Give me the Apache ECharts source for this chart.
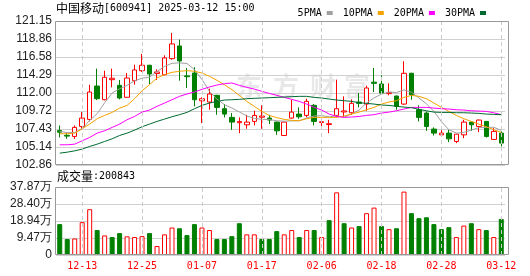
<!DOCTYPE html>
<html><head><meta charset="utf-8">
<script src="https://cdn.jsdelivr.net/npm/echarts@6/dist/echarts.min.js"></script>
<style>html,body{margin:0;padding:0;background:#fff}#c{width:530px;height:276px}</style>
</head><body><div id="c"></div><script>
const dates = ['12-10','12-11','12-12','12-13','12-16','12-17','12-18','12-19','12-20','12-23','12-24','12-25','12-26','12-27','12-30','12-31','01-02','01-03','01-06','01-07','01-08','01-09','01-10','01-13','01-14','01-15','01-16','01-17','01-20','01-21','01-22','01-23','01-24','01-27','02-05','02-06','02-07','02-10','02-11','02-12','02-13','02-14','02-17','02-18','02-19','02-20','02-21','02-24','02-25','02-26','02-27','02-28','03-03','03-04','03-05','03-06','03-07','03-10','03-11','03-12'];
const opens  = [107.25,106.65,106.51,107.78,108.67,112.91,111.17,113.72,113.00,111.48,113.59,114.86,115.55,114.50,114.35,116.39,118.00,114.20,114.57,111.04,110.88,111.73,110.03,108.93,108.25,107.99,108.42,108.95,108.84,108.33,106.63,108.84,109.35,109.18,110.46,108.28,108.02,109.18,109.62,109.52,110.88,110.62,113.40,113.17,111.95,111.64,110.62,114.53,109.90,109.48,107.44,106.71,106.93,105.87,106.71,108.33,107.78,108.42,106.13,106.93];
const closes = [107.05,106.55,107.66,108.84,112.15,111.30,114.02,113.90,111.39,113.93,114.95,115.55,114.44,114.70,116.48,118.26,116.10,114.10,111.17,111.30,111.90,110.20,109.35,108.33,108.40,108.33,109.18,109.10,108.59,107.22,108.33,109.60,109.00,110.97,108.42,108.38,108.12,110.03,109.75,110.71,110.71,112.66,113.25,112.02,112.10,110.33,114.53,111.81,108.93,107.78,106.93,106.93,106.20,106.80,108.33,107.99,108.59,106.51,107.15,105.66];
const lows   = [106.38,106.20,106.20,107.48,108.42,111.13,111.10,112.75,111.22,111.40,113.08,114.70,113.17,113.68,114.27,116.26,113.59,112.66,110.33,108.20,109.90,109.26,108.93,107.35,106.93,107.48,107.91,107.48,108.08,106.71,106.60,108.75,108.75,108.93,107.91,107.78,106.93,108.93,108.93,109.26,110.20,109.77,112.15,111.90,111.73,109.90,110.53,111.17,108.42,107.22,106.63,106.71,105.78,105.66,106.29,107.22,107.06,106.38,106.10,105.24];
const highs  = [107.90,107.02,107.91,109.60,113.08,115.12,114.86,115.12,113.68,114.57,115.63,116.99,115.60,115.04,116.82,119.66,118.81,115.20,115.30,111.48,112.57,111.80,110.62,109.48,108.93,109.26,109.77,110.46,109.26,108.40,108.35,111.17,110.20,111.30,110.62,108.75,108.62,113.72,111.60,111.22,112.02,112.95,115.20,114.27,113.26,111.70,116.06,114.60,110.46,109.69,107.66,107.66,107.35,106.85,108.62,108.40,108.65,108.45,107.57,107.15];
const ma5  = [107.14,107.00,107.00,107.48,108.55,109.40,110.78,112.03,112.56,113.00,113.58,113.90,114.04,114.75,115.40,115.80,115.85,115.78,115.00,113.75,112.25,111.25,110.55,110.12,109.62,109.10,108.80,108.68,108.65,108.50,108.45,108.48,108.50,108.85,109.10,109.15,109.00,109.12,108.95,109.37,109.85,110.76,111.41,111.88,112.15,112.08,112.42,112.12,111.40,110.64,109.70,108.40,107.36,106.93,107.02,107.32,107.62,107.65,107.68,107.28];
const ma10 = [106.85,106.85,106.93,107.48,108.08,108.76,109.18,109.56,110.11,110.45,111.30,112.32,113.08,113.93,114.36,114.65,114.78,114.87,114.78,114.57,114.14,113.64,113.08,112.45,111.73,110.96,110.33,109.69,109.18,108.90,108.68,108.55,108.50,108.76,108.93,108.93,108.93,108.93,109.10,109.35,109.60,109.90,110.20,110.62,110.88,111.05,111.47,111.73,111.60,111.30,110.75,110.20,109.69,109.18,108.76,108.42,108.08,107.74,107.36,107.02];
const ma20 = [105.45,105.45,105.53,105.96,106.38,106.93,107.23,107.65,108.08,108.63,109.05,109.60,109.86,110.33,110.75,111.17,111.60,111.90,112.15,112.49,112.79,113.04,113.21,113.30,113.00,112.74,112.53,112.24,111.98,111.73,111.47,111.22,110.96,110.62,110.20,109.86,109.35,109.05,108.93,108.97,109.05,109.18,109.27,109.48,109.60,109.77,109.99,110.20,110.20,110.20,110.11,110.03,109.99,109.90,109.86,109.77,109.73,109.69,109.52,109.27];
const ma30 = [104.39,104.51,104.68,104.90,105.24,105.53,105.87,106.21,106.63,106.93,107.31,107.74,108.08,108.42,108.71,109.01,109.27,109.56,110.03,110.45,110.75,110.96,111.13,111.17,111.22,111.30,111.35,111.39,111.43,111.47,111.52,111.56,111.60,111.60,111.47,111.39,111.26,111.13,111.05,110.96,110.79,110.71,110.62,110.50,110.45,110.33,110.24,110.16,109.95,109.77,109.60,109.56,109.56,109.52,109.52,109.48,109.44,109.35,109.31,109.27];
const volumes = [17.2,8.9,9.2,18.3,25.5,13.9,10.9,10.0,12.2,10.4,10.0,10.5,12.2,5.0,11.5,15.3,14.9,11.1,17.2,15.3,13.9,8.9,8.9,10.5,17.7,11.5,11.5,8.9,8.9,13.3,11.5,13.9,10.0,13.9,13.9,10.0,19.4,34.9,17.7,15.3,16.1,23.3,26.4,16.1,14.4,14.9,35.3,23.3,20.5,21.0,17.2,14.4,15.5,10.0,16.4,17.7,14.4,13.9,10.0,20.08];
const volUp = [0,0,1,1,1,0,1,0,0,1,1,1,0,1,1,1,0,0,0,1,1,0,0,0,0,1,1,0,0,0,1,1,0,1,0,1,0,1,0,1,0,1,1,0,1,0,1,0,0,0,0,0,0,1,1,0,1,0,1,0];
const tickDates = ['12-13','12-25','01-07','01-17','02-06','02-18','02-28','03-12'];
const priceTicks = ['102.86','105.14','107.43','109.72','112.00','114.29','116.58','118.86','121.15'];
const volTicks = ['0','9.47万','18.94万','28.40万','37.87万'];
const lastVolumeText = '200843';

const RED = '#ff0000', GREEN = '#008000';
const P_MIN = 102.88125, P_INT = 2.28625, P_MAX = P_MIN + 8 * P_INT;
const V_INT = 9.4675, V_MAX = 4 * V_INT;
const candleData = opens.map((o, i) => [o, closes[i], lows[i], highs[i]]);
const volData = volumes.map((v, i) => ({
  value: v,
  itemStyle: volUp[i] ? {color: '#fff', borderColor: RED, borderWidth: 1} : {color: GREEN, borderColor: GREEN, borderWidth: 1}
}));
const mono = 'DejaVu Sans Mono';
const sans = 'Liberation Sans';
const cjk = 'Noto Sans CJK SC';
const vlines = tickDates.map(d => ({xAxis: d}));
const mlStyle = {silent: true, symbol: ['none', 'none'], label: {show: false}, animation: false,
  lineStyle: {type: [4, 3], color: '#cccccc', width: 1}, data: vlines};

const chart = echarts.init(document.getElementById('c'), null, {renderer: 'canvas'});
chart.setOption({
  animation: false,
  backgroundColor: '#fff',
  legend: {
    data: ['5PMA', '10PMA', '20PMA', '30PMA'],
    right: 39, top: 3, align: 'right', icon: 'rect', itemWidth: 6, itemHeight: 4, itemGap: 10,
    textStyle: {fontFamily: mono, fontSize: 10, color: '#000', padding: [0, 0, 0, 0]},
    selectedMode: false
  },
  grid: [
    {left: 56, top: 21, width: 449, height: 144},
    {left: 56, top: 187, width: 449, height: 68}
  ],
  xAxis: [
    {type: 'category', gridIndex: 0, data: dates, boundaryGap: true, axisLine: {show: false}, axisTick: {show: false}, axisLabel: {show: false}, splitLine: {show: false}},
    {type: 'category', gridIndex: 1, data: dates, boundaryGap: true, axisLine: {show: false}, axisTick: {show: false}, splitLine: {show: false},
      axisLabel: {show: true, interval: (i, v) => tickDates.includes(v), color: RED, fontFamily: mono, fontSize: 10, margin: 6}}
  ],
  yAxis: [
    {type: 'value', gridIndex: 0, min: P_MIN, max: P_MAX, interval: P_INT, axisLine: {show: false}, axisTick: {show: false},
      splitLine: {lineStyle: {color: '#d0d0d0', width: 1}},
      axisLabel: {color: '#222', fontFamily: sans, fontSize: 12, margin: 4, formatter: v => priceTicks[Math.round((v - P_MIN) / P_INT)]}},
    {type: 'value', gridIndex: 1, min: 0, max: V_MAX, interval: V_INT, axisLine: {show: false}, axisTick: {show: false},
      splitLine: {lineStyle: {color: '#d0d0d0', width: 1}},
      axisLabel: {color: '#222', fontFamily: sans, fontSize: 12, margin: 4, formatter: v => volTicks[Math.round(v / V_INT)]}}
  ],
  graphic: [
    {type: 'text', left: 56, top: 2, z: 50, style: {
      text: '{a|中国移动}{b|[600941] 2025-03-12 15:00}',
      rich: {a: {fontFamily: cjk, fontSize: 12, fill: '#000', color: '#000'}, b: {fontFamily: mono, fontSize: 10, fill: '#000', color: '#000'}}
    }},
    {type: 'text', left: 57, top: 170, z: 50, style: {
      text: '{a|成交量}{b|:' + lastVolumeText + '}',
      rich: {a: {fontFamily: cjk, fontSize: 12, fill: '#000', color: '#000'}, b: {fontFamily: mono, fontSize: 10, fill: '#000', color: '#000'}}
    }},
    {type: 'group', z: 0, silent: true, children: [
      {type: 'text', x: 236, y: 73, style: {text: '东', font: 'bold 26px "Noto Sans CJK SC"', fill: 'rgba(0,0,0,0.09)'}},
      {type: 'text', x: 273, y: 73, style: {text: '方', font: 'bold 26px "Noto Sans CJK SC"', fill: 'rgba(0,0,0,0.09)'}},
      {type: 'text', x: 310, y: 73, style: {text: '财', font: 'bold 26px "Noto Sans CJK SC"', fill: 'rgba(0,0,0,0.09)'}},
      {type: 'text', x: 344, y: 73, style: {text: '富', font: 'bold 26px "Noto Sans CJK SC"', fill: 'rgba(0,0,0,0.09)'}}
    ]},
    {type: 'rect', z: 100, silent: true, shape: {x: 55.5, y: 21.5, width: 453, height: 143}, style: {fill: 'none', stroke: '#999', lineWidth: 1}},
    {type: 'rect', z: 100, silent: true, shape: {x: 55.5, y: 187.5, width: 453, height: 67}, style: {fill: 'none', stroke: '#999', lineWidth: 1}}
  ],
  series: [
    {type: 'candlestick', name: 'K', xAxisIndex: 0, yAxisIndex: 0, data: candleData, barWidth: 5, z: 3,
      itemStyle: {color: '#fff', color0: GREEN, borderColor: RED, borderColor0: GREEN, borderWidth: 1},
      markLine: mlStyle},
    {type: 'line', name: '5PMA', xAxisIndex: 0, yAxisIndex: 0, data: ma5, symbol: 'none', z: 4, color: '#a0a0a0', lineStyle: {width: 1, color: '#a0a0a0'}},
    {type: 'line', name: '10PMA', xAxisIndex: 0, yAxisIndex: 0, data: ma10, symbol: 'none', z: 4, color: '#f5a300', lineStyle: {width: 1, color: '#f5a300'}},
    {type: 'line', name: '20PMA', xAxisIndex: 0, yAxisIndex: 0, data: ma20, symbol: 'none', z: 4, color: '#ff00ff', lineStyle: {width: 1, color: '#ff00ff'}},
    {type: 'line', name: '30PMA', xAxisIndex: 0, yAxisIndex: 0, data: ma30, symbol: 'none', z: 4, color: '#006a30', lineStyle: {width: 1, color: '#006a30'}},
    {type: 'bar', name: 'VOL', xAxisIndex: 1, yAxisIndex: 1, data: volData, barWidth: 5, z: 3, markLine: mlStyle}
  ]
});
</script></body></html>
